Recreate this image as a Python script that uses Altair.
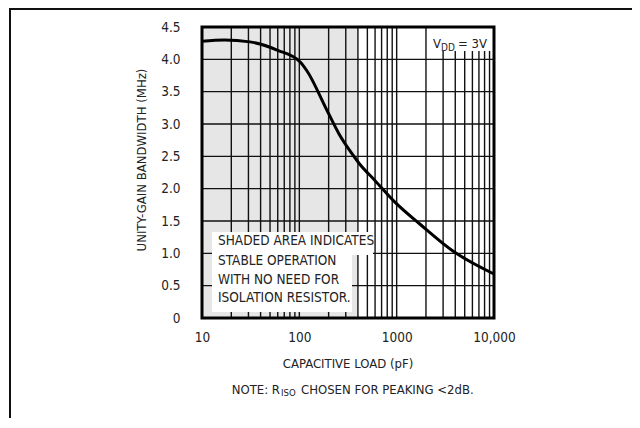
import altair as alt

# ---- data ----
cap_pf = [10, 17, 31, 60, 102, 120, 191, 255, 340, 412, 604, 977, 1740, 3750, 10000]
bw_mhz = [4.28, 4.30, 4.27, 4.14, 3.96, 3.82, 3.22, 2.85, 2.56, 2.39, 2.12, 1.78, 1.45, 1.04, 0.68]

x_label_values = [10, 100, 1000, 10000]
y_tick_values = [0, 0.5, 1.0, 1.5, 2.0, 2.5, 3.0, 3.5, 4.0, 4.5]
x_grid = [10, 20, 30, 40, 50, 60, 70, 80, 90,
          100, 200, 300, 400, 500, 600, 700, 800, 900,
          1000, 2000, 3000, 4000, 5000, 6000, 7000, 8000, 9000, 10000]
y_grid = [0.5, 1.0, 1.5, 2.0, 2.5, 3.0, 3.5, 4.0]
shade_from, shade_to = 10, 400

note_lines = ["SHADED AREA INDICATES", "STABLE OPERATION", "WITH NO NEED FOR", "ISOLATION RESISTOR."]
x_title = "CAPACITIVE LOAD (pF)"
y_title = "UNITY-GAIN BANDWIDTH (MHz)"

FONT = "DejaVu Sans Condensed, Liberation Sans, sans-serif"
W, H = 292, 291

xscale = alt.Scale(type="log", domain=[10, 10000], nice=False)
yscale = alt.Scale(domain=[0, 4.5], nice=False, zero=False)
xaxis = alt.Axis(values=x_label_values, grid=False, ticks=False, tickSize=0, domain=False, title=None,
                 labelFont=FONT, labelFontSize=13.5, labelColor="#222", labelPadding=12,
                 labelExpr="datum.value >= 10000 ? '10,000' : format(datum.value, 'd')", labelFlush=False,
                 labelOverlap=False)
yaxis = alt.Axis(values=y_tick_values, grid=False, ticks=False, tickSize=0, domain=False, title=None,
                 labelFont=FONT, labelFontSize=13.5, labelColor="#222", labelPadding=22,
                 labelExpr="datum.value == 0 ? '0' : format(datum.value, '.1f')", labelFlush=False)


def X(f):
    return alt.X(f"{f}:Q", scale=xscale, axis=xaxis)


def Y(f):
    return alt.Y(f"{f}:Q", scale=yscale, axis=yaxis)


one = alt.Data(values=[{}])

curve_df = alt.Data(values=[{"c": c, "b": b} for c, b in zip(cap_pf, bw_mhz)])
shade = alt.Chart(alt.Data(values=[{"x1": shade_from, "x2": shade_to, "y1": 0, "y2": 4.5}])).mark_rect(
    color="#e6e6e6").encode(x=X("x1"), x2="x2:Q", y=Y("y1"), y2="y2:Q")

vgrid = alt.Chart(alt.Data(values=[{"g": g} for g in x_grid])).mark_rule(
    color="#111", strokeWidth=1.4).encode(x=X("g"))
hgrid = alt.Chart(alt.Data(values=[{"h": h} for h in y_grid])).mark_rule(
    color="#111", strokeWidth=1.4).encode(y=Y("h"))

box1 = alt.Chart(one).mark_rect(color="white").encode(
    x=alt.value(10), x2=alt.value(171), y=alt.value(205), y2=alt.value(228))
box2 = alt.Chart(one).mark_rect(color="white").encode(
    x=alt.value(10), x2=alt.value(150), y=alt.value(227), y2=alt.value(285))
vbox = alt.Chart(one).mark_rect(color="white").encode(
    x=alt.value(227), x2=alt.value(290), y=alt.value(0), y2=alt.value(24))

ys = [214, 233.5, 252.5, 271]
note_layers = [
    alt.Chart(one).mark_text(font=FONT, fontSize=13.5, align="left", baseline="middle", color="#222").encode(
        x=alt.value(16), y=alt.value(yy), text=alt.value(t))
    for t, yy in zip(note_lines, ys)
]

def txt(t, x, y, size=13, align="left", angle=0):
    return alt.Chart(one).mark_text(font=FONT, fontSize=size, align=align, baseline="middle",
                                     color="#222", angle=angle).encode(
        x=alt.value(x), y=alt.value(y), text=alt.value(t))

vdd = [txt("V", 231, 16.5, 13), txt("DD", 239, 20.5, 10), txt("= 3V", 285, 16.5, 13, align="right")]
titles = [
    txt(x_title, 146, 337, 13, align="center"),
    txt(y_title, -60, 133, 13, align="center", angle=270),
    txt("NOTE: R", 78, 363, 13, align="right"),
    txt("ISO", 79, 366, 9.5),
    txt("CHOSEN FOR PEAKING <2dB.", 99, 363, 13),
]

curve = alt.Chart(curve_df).mark_line(color="black", strokeWidth=3, interpolate="monotone").encode(
    x=X("c"), y=Y("b"))

frame = alt.Chart(one).mark_rect(filled=False, stroke="black", strokeWidth=3).encode(
    x=alt.value(0), x2=alt.value(W), y=alt.value(0), y2=alt.value(H))

outer_v = alt.Chart(one).mark_rule(color="#111", strokeWidth=2).encode(
    x=alt.value(-192), y=alt.value(-18), y2=alt.value(392))
outer_h = alt.Chart(one).mark_rule(color="#111", strokeWidth=2).encode(
    x=alt.value(-193), x2=alt.value(430), y=alt.value(-18))

chart = alt.layer(shade, vgrid, hgrid, box1, box2, vbox, *note_layers, *vdd, *titles, curve, frame,
                  outer_v, outer_h).properties(
    width=W, height=H, autosize="none",
    padding={"left": 194, "top": 19, "right": 138, "bottom": 100},
    background="white",
).configure_view(stroke=None)

chart.save("out.html", embed_options={"renderer": "svg", "actions": False})
